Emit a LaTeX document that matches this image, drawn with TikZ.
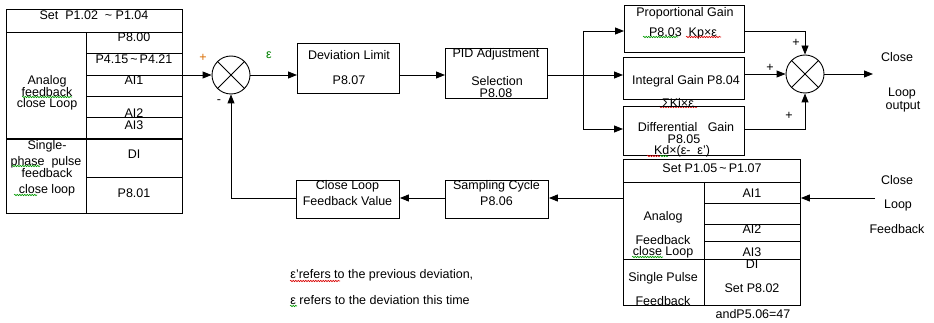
\documentclass[tikz,border=0pt]{standalone}
\usepackage{fontspec}
\setmainfont{Liberation Sans}
\usetikzlibrary{arrows.meta,decorations.pathmorphing}
\begin{document}
\begin{tikzpicture}[x=1pt,y=-1pt,line width=0.9pt,
  box/.style={draw,inner sep=0pt,anchor=north west},
  lbl/.style={inner sep=0pt,font=\fontsize{12.5}{14}\selectfont},
  arr/.style={-{Triangle[length=9pt,width=7pt]}},
  sumnode/.style={draw,circle,minimum size=38pt,inner sep=0pt},
  spellg/.style={draw=green!60!black,line width=0.6pt,decorate,decoration={snake,amplitude=0.7pt,segment length=2.5pt}},
  spellr/.style={draw=red!85!black,line width=0.6pt,decorate,decoration={snake,amplitude=0.7pt,segment length=2.5pt}}]
\useasboundingbox (0,0) rectangle (934,323);

% ---------- left table ----------
\node[box,minimum width=176pt,minimum height=204pt] (tab1) at (6,9) {};
\draw[line width=1.8pt] (6,32.5) -- (182,32.5);
\draw[line width=1.8pt] (6,139) -- (182,139);
\draw (86,32.5) -- (86,213);
\draw (86,53) -- (182,53) (86,75) -- (182,75) (86,96) -- (182,96) (86,117) -- (182,117) (86,177) -- (182,177);
\node[lbl] (t1a) at (94,15) {Set~ P1.02~ \char`~\ P1.04};
\node[lbl] (t1b) at (134,37) {P8.00};
\node[lbl] (t1c) at (134,59) {P4.15\,\char`~\,P4.21};
\node[lbl] (t1d) at (134,80) {AI1};
\node[lbl] (t1e) at (134,113) {AI2};
\node[lbl] (t1f) at (134,125) {AI3};
\node[lbl] (t1g) at (47,81) {Analog};
\node[lbl] (t1h) at (47,92) {feedback};
\node[lbl] (t1i) at (47,104) {close Loop};
\node[lbl] (t1j) at (47,146) {Single-};
\node[lbl] (t1k) at (46,162) {phase~ pulse};
\node[lbl] (t1l) at (47,173) {feedback};
\node[lbl] (t1m) at (47,190) {close loop};
\draw[spellg] (22,97) -- (72,97);
\draw[spellg] (12,166) -- (40,166);
\draw[spellg] (14,195) -- (37,195);
\node[lbl] (t1n) at (134,154) {DI};
\node[lbl] (t1o) at (134,193) {P8.01};

% ---------- first summing junction ----------
\node[sumnode] (s1) at (231,75) {};
\draw (s1.north west) -- (s1.south east) (s1.north east) -- (s1.south west);
\node[lbl,text=orange!85!black] (p1) at (203,58) {+};
\node[lbl] (m1) at (219,102) {-};
\node[lbl,text=green!50!black] (eps) at (269,55) {ε};

% ---------- deviation limit / PID ----------
\node[box,minimum width=102pt,minimum height=50pt] (dl) at (297,43) {};
\node[lbl] (dla) at (349,55) {Deviation Limit};
\node[lbl] (dlb) at (349,80) {P8.07};
\node[box,minimum width=102pt,minimum height=50pt] (pid) at (445,48) {};
\node[lbl] (pida) at (496,54) {PID Adjustment};
\node[lbl] (pidb) at (497,81) {Selection};
\node[lbl] (pidc) at (496,93) {P8.08};

% ---------- gains ----------
\node[box,minimum width=120pt,minimum height=47pt] (pg) at (624,5) {};
\node[lbl] (pga) at (685,13) {Proportional Gain};
\node[lbl] (pgb) at (683,33) {P8.03~ Kp×ε};
\draw[spellg] (643,37) -- (678,37);
\draw[spellr] (686,37) -- (721,37);
\node[box,minimum width=121pt,minimum height=42pt] (ig) at (623,57) {};
\node[lbl] (iga) at (686,81) {Integral Gain P8.04};
\node[lbl] (igb) at (678,103) {ΣKi×ε};
\draw[spellr] (659,107) -- (697,107);
\node[box,minimum width=121pt,minimum height=49pt] (dg) at (623,106) {};
\node[lbl] (dga) at (686,127) {Differential~~ Gain};
\node[lbl] (dgb) at (684,139) {P8.05};
\node[lbl] (dgc) at (682,151) {Kd×(ε-~ ε')};
\draw[spellr] (647,156) -- (660,156);
\draw[spellg] (660,156) -- (668,156);

% ---------- second summing junction ----------
\node[sumnode] (s2) at (805,74) {};
\draw (s2.north west) -- (s2.south east) (s2.north east) -- (s2.south west);
\node[lbl] (p2) at (796,43) {+};
\node[lbl] (p3) at (770,68) {+};
\node[lbl] (p4) at (789,116) {+};
\node[lbl] (oa) at (897,57) {Close};
\node[lbl] (ob) at (902,93) {Loop};
\node[lbl] (oc) at (903,107) {output};

% ---------- feedback table ----------
\node[box,minimum width=177pt,minimum height=146pt] (tab2) at (623,159) {};
\draw (623,182) -- (800,182);
\draw (704,182) -- (704,305);
\draw (704,203) -- (800,203) (704,224) -- (800,224) (704,241) -- (800,241);
\draw (623,259) -- (800,259);
\node[lbl] (t2a) at (712,168) {Set P1.05\,\char`~\,P1.07};
\node[lbl] (t2b) at (752,193) {AI1};
\node[lbl] (t2c) at (752,229) {AI2};
\node[lbl] (t2d) at (752,252) {AI3};
\node[lbl] (t2e) at (752,264) {DI};
\node[lbl] (t2f) at (752,288) {Set P8.02};
\node[lbl] (t2g) at (753,314) {andP5.06=47};
\node[lbl] (t2h) at (663,217) {Analog};
\node[lbl] (t2i) at (663,240) {Feedback};
\node[lbl] (t2j) at (663,252) {close Loop};
\node[lbl] (t2k) at (663,278) {Single Pulse};
\node[lbl] (t2l) at (663,301) {Feedback};
\draw[spellg] (632,257) -- (663,257);
\node[lbl] (fa) at (897,180) {Close};
\node[lbl] (fb) at (898,205) {Loop};
\node[lbl] (fc) at (897,229) {Feedback};

% ---------- feedback path boxes ----------
\node[box,minimum width=103pt,minimum height=38pt] (sc) at (445,180) {};
\node[lbl] (sca) at (496.5,186) {Sampling Cycle};
\node[lbl] (scb) at (496.5,201) {P8.06};
\node[box,minimum width=103pt,minimum height=38pt] (cl) at (296,180) {};
\node[lbl] (cla) at (347.5,186) {Close Loop};
\node[lbl] (clb) at (347.5,201) {Feedback Value};

% ---------- notes ----------
\node[lbl,anchor=west] (n1) at (290,275) {ε'refers to the previous deviation,};
\node[lbl,anchor=west] (n2) at (290,300) {ε refers to the deviation this time};
\draw[spellr] (290,281) -- (340,281);
\draw[spellg] (290,306) -- (297,306);

% ---------- connectors ----------
\draw[arr] (s1 -| tab1.east) -- (s1.west);
\draw[arr] (s1.east) -- (s1 -| dl.west);
\draw[arr] (dl.east |- s1) -- (pid.west |- s1);
\coordinate (br) at (583,75);
\coordinate (brt) at (583,31);
\coordinate (brb) at (583,129);
\draw (pid.east |- br) -- (br);
\draw (brt) -- (brb);
\draw[arr] (brt) -- (brt -| pg.west);
\draw[arr] (br) -- (br -| ig.west);
\draw[arr] (brb) -- (brb -| dg.west);
\draw[arr] (pg.east |- brt) -| (s2.north);
\draw[arr] (ig.east |- s2) -- (s2.west);
\draw[arr] (dg.east |- brb) -| (s2.south);
\coordinate (out) at (873,74);
\draw[arr] (s2.east) -- (out);
\coordinate (fbin) at (875,198);
\draw[arr] (fbin) -- (fbin -| tab2.east);
\draw[arr] (fbin -| tab2.west) -- (fbin -| sc.east);
\draw[arr] (sc.west |- fbin) -- (fbin -| cl.east);
\draw[arr] (cl.west |- fbin) -| (s1.south);
\end{tikzpicture}
\end{document}
